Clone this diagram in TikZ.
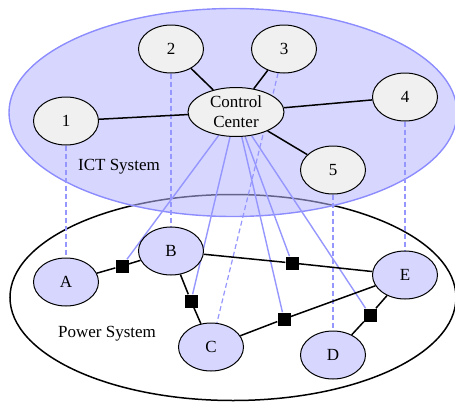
\documentclass[tikz,border=0pt]{standalone}
\usepackage{fontspec}
\setmainfont{Liberation Serif}
\usetikzlibrary{shapes.geometric}
\definecolor{ictfill}{RGB}{181,181,255}
\definecolor{ictedge}{RGB}{140,140,255}
\definecolor{pwrfill}{RGB}{214,214,255}
\definecolor{grayfill}{RGB}{240,240,240}
\definecolor{linkblue}{RGB}{150,150,255}
\pgfdeclarelayer{bgzero}
\pgfdeclarelayer{bgone}
\pgfsetlayers{bgzero,bgone,main}
\begin{document}
\begin{tikzpicture}[x=1pt,y=-1pt,
  ictnode/.style={ellipse,draw=black,line width=1pt,fill=grayfill,minimum width=65pt,minimum height=48pt,inner sep=0pt,font=\fontsize{17}{20}\selectfont,align=center},
  pwrnode/.style={ictnode,fill=pwrfill},
  breaker/.style={rectangle,fill=black,minimum size=13pt,inner sep=0pt},
  wire/.style={line width=1.5pt,black},
  ctrl/.style={line width=1.4pt,linkblue},
  couple/.style={line width=1.2pt,linkblue,dash pattern=on 5pt off 3pt},
  systext/.style={font=\fontsize{17}{20}\selectfont,inner sep=0pt}]
\useasboundingbox (0,0) rectangle (455,402);
\begin{pgfonlayer}{bgzero}
\draw[line width=1.5pt] (233,297.5) ellipse [x radius=223pt, y radius=103pt];
\fill[ictfill,fill opacity=0.55] (233,112.5) ellipse [x radius=224pt, y radius=104pt];
\draw[ictedge,line width=1.4pt] (233,112.5) ellipse [x radius=224pt, y radius=104pt];
\end{pgfonlayer}
% ICT nodes
\node[ictnode,minimum width=96pt,minimum height=49pt] (cc) at (236,112) {Control\\Center};
\node[ictnode] (n1) at (66,121) {1};
\node[ictnode] (n2) at (171,49) {2};
\node[ictnode] (n3) at (284,49) {3};
\node[ictnode] (n4) at (405,97) {4};
\node[ictnode] (n5) at (333,170) {5};
% power nodes
\node[pwrnode] (A) at (66,282) {A};
\node[pwrnode] (B) at (171,251) {B};
\node[pwrnode] (C) at (211,347) {C};
\node[pwrnode] (D) at (333,355) {D};
\node[pwrnode] (E) at (405,275) {E};
% breakers
\node[breaker] (sAB) at (122,266) {};
\node[breaker] (sBC) at (191,301) {};
\node[breaker] (sBE) at (292,263) {};
\node[breaker] (sCE) at (284,319) {};
\node[breaker] (sDE) at (370,315) {};
% labels
\node[systext] (ictlbl) at (119,167) {ICT System};
\node[systext] (pwrlbl) at (107,334) {Power System};
\begin{pgfonlayer}{bgone}
\draw[couple] (n1) -- (A);
\draw[couple] (n2) -- (B);
\draw[couple] (n3) -- (C);
\draw[couple] (n4) -- (E);
\draw[couple] (n5) -- (D);
\draw[ctrl] (cc) -- (sAB);
\draw[ctrl] (cc) -- (sBC);
\draw[ctrl] (cc) -- (sBE);
\draw[ctrl] (cc) -- (sCE);
\draw[ctrl] (cc) -- (sDE);
\draw[wire] (n1) -- (cc);
\draw[wire] (n2) -- (cc);
\draw[wire] (n3) -- (cc);
\draw[wire] (n4) -- (cc);
\draw[wire] (n5) -- (cc);
\draw[wire] (A) -- (sAB) -- (B);
\draw[wire] (B) -- (sBC) -- (C);
\draw[wire] (B) -- (sBE) -- (E);
\draw[wire] (C) -- (sCE) -- (E);
\draw[wire] (D) -- (sDE) -- (E);
\end{pgfonlayer}
\end{tikzpicture}
\end{document}
